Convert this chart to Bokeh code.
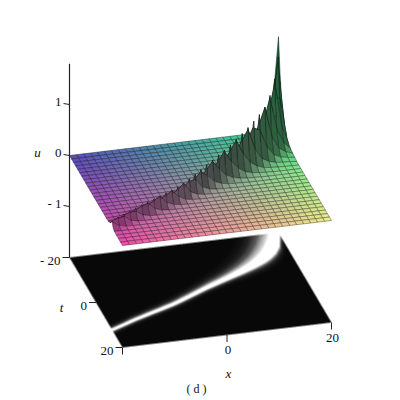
import numpy as np
from bokeh.plotting import figure
from bokeh.models import Range1d
from bokeh.core.properties import value
from bokeh.embed import file_html
from bokeh.resources import INLINE

# --- values -----------------------------------------------------------
x_cols = [-20,-18.67,-17.33,-16,-14.67,-13.33,-12,-10.67,-9.33,-8,-6.67,-5.33,-4,-2.67,-1.33,0,
          1.33,2.67,4,5.33,6.67,8,9.33,10.67,12,13.33,14.67,16,17.33,18.67,20]
ridge_t = [12.2,11.4,10.6,9.8,9.0,8.3,7.6,6.9,6.2,5.5,4.8,4.0,3.1,2.2,1.3,.4,
           -.5,-1.3,-2.1,-2.9,-3.7,-4.5,-5.3,-6.2,-7.1,-8.1,-9.2,-10.6,-12.4,-15,-20]
ridge_u = [.14,.16,.17,.18,.19,.2,.21,.22,.23,.24,.25,.26,.28,.31,.35,.38,
           .42,.46,.5,.55,.6,.66,.72,.78,.85,.92,1.0,1.15,1.38,1.68,1.84]
near_w  = [.55,.55,.55,.55,.55,.55,.55,.6,.6,.6,.6,.65,.65,.65,.7,.7,
           .75,.75,.8,.8,.85,.9,.9,.95,1,1,1.1,1.2,1.4,1.8,2.4]
far_w   = [1.2,1.2,1.2,1.2,1.2,1.3,1.3,1.3,1.3,1.4,1.4,1.4,1.5,1.5,1.5,1.6,
           1.6,1.7,1.7,1.8,1.8,1.9,1.9,2,2.1,2.2,2.3,2.5,2.7,3,3.2]
band_far = [.45,.45,.45,.5,.5,.5,.55,.55,.55,.6,.6,.65,.7,.7,.75,.8,
            .85,.95,1,1.1,1.25,1.45,1.7,2,2.4,3,3.8,4.8,6,7.5,9]
band_near = [.4,.4,.4,.4,.4,.4,.4,.4,.42,.42,.42,.42,.44,.44,.45,.45,
             .46,.48,.48,.5,.52,.56,.6,.65,.7,.75,.8,.85,.9,.95,1]
near_off = [0,.5,1,2,3,4,6]
near_val = [1,.62,.38,.14,.05,.02,0]
far_off = [0,1,2,3]
far_val = [1,.35,.08,0]
t_rows = [-20,-18.46,-16.92,-15.38,-13.85,-12.31,-10.77,-9.23,-7.69,-6.15,-4.62,-3.08,-1.54,0,
          1.54,3.08,4.62,6.15,7.69,9.23,10.77,12.31,13.85,15.38,16.92,18.46,20]
corner_far_left = (88,78,190)
corner_far_right = (58,228,140)
corner_front_left = (238,78,170)
corner_front_right = (238,238,140)
u_ticks = [-1,0,1]
u_labels = ["- 1","0","1"]
t_ticks = [-20,0,20]
t_labels = ["- 20","0","20"]
x_ticks = [0,20]
x_labels = ["0","20"]

# --- orthographic view ------------------------------------------------
O = np.array([69.0,257.0]); EX = np.array([209.0,-25.0])/40; ET = np.array([53.0,90.0])/40
U_PX = 51.0
def proj(x,t,u):
    x=np.asarray(x,float); t=np.asarray(t,float); u=np.asarray(u,float)
    sx = O[0]+(x+20)*EX[0]+(t+20)*ET[0]
    sy = O[1]+(x+20)*EX[1]+(t+20)*ET[1]-(u+2)*U_PX
    return sx,-sy

X = np.array(x_cols); T = np.array(t_rows)
RT=np.array(ridge_t); RU=np.array(ridge_u); NW=np.array(near_w); FW=np.array(far_w)

def col_u(i,t):
    d=np.asarray(t,float)-RT[i]
    return RU[i]*np.where(d>=0,np.interp(d/NW[i],near_off,near_val),np.interp(-d/FW[i],far_off,far_val))

def edge_ts(i,j):
    ts=list(np.linspace(T[j],T[j+1],5))
    if T[j]<RT[i]<T[j+1]: ts.append(RT[i])
    return sorted(ts)

xs=[];ys=[];fc=[];lc=[]
for j in range(len(T)-1):
    ft=((T[j]+T[j+1])/2+20)/40
    for i in range(len(X)-2,-1,-1):
        tl=edge_ts(i,j); tr=edge_ts(i+1,j)
        ul=col_u(i,tl); ur=col_u(i+1,tr)
        ax_,ay_=proj(np.full(len(tl),X[i]),tl,ul)
        bx_,by_=proj(np.full(len(tr),X[i+1]),tr,ur)
        xs.append(list(ax_)+list(bx_[::-1]))
        ys.append(list(ay_)+list(by_[::-1]))
        dut=((ul[-1]+ur[-1])-(ul[0]+ur[0]))/2/(T[j+1]-T[j])
        dpk=(ul.max()+ur.max()-ul.min()-ur.min())/2/(T[j+1]-T[j])
        dux=(np.mean(ur)-np.mean(ul))/(X[i+1]-X[i])
        s=np.hypot(max(abs(dut),dpk),dux)
        shade=max(1/(1+6*s),.44)
        fx=((X[i]+X[i+1])/2+20)/40
        c=(1-fx)*(1-ft)*np.array(corner_far_left)+fx*(1-ft)*np.array(corner_far_right)\
          +(1-fx)*ft*np.array(corner_front_left)+fx*ft*np.array(corner_front_right)
        c=c*shade
        fc.append("#%02x%02x%02x"%tuple(int(v) for v in c))
        lc.append("#%02x%02x%02x"%tuple(int(v) for v in c*.35))

p = figure(width=400,height=400,x_range=Range1d(0,400),y_range=Range1d(-400,0),
           output_backend="svg",toolbar_location=None,min_border=0)
p.axis.visible=False; p.grid.visible=False; p.outline_line_color=None

# density plane as an image in the same projection
W,H = 280,125
x0,y0 = 60,230
SS=3
gx,gy = np.meshgrid((np.arange(W*SS)+.5)/SS+x0,(np.arange(H*SS)+.5)/SS+y0)
det=EX[0]*ET[1]-EX[1]*ET[0]
dx=gx-O[0]; dy=gy-O[1]
ax=(dx*ET[1]-dy*ET[0])/det-20
at=(EX[0]*dy-EX[1]*dx)/det-20
inside=(ax>=-20)&(ax<=20)&(at>=-20)&(at<=20)
rt=np.interp(ax,X,RT); nb=np.interp(ax,X,band_near); fb=np.interp(ax,X,band_far)
d=at-rt
g=np.where(d>=0,np.interp(d/nb,near_off,near_val),np.interp(-d/fb,near_off,near_val))
g=np.clip(g*2.2,0,1)
gray=np.clip(g*255+8,0,255)
alpha=inside.astype(float)
def down(a): return a.reshape(H,SS,W,SS).mean(axis=(1,3))
A=down(alpha); Gp=down(gray*alpha)/np.maximum(A,1e-6)
img=np.zeros((H,W),dtype=np.uint32)
v=img.view(dtype=np.uint8).reshape(H,W,4)
v[...,0]=Gp;v[...,1]=Gp;v[...,2]=Gp;v[...,3]=A*255
img=img[::-1]
p.image_rgba(image=[img],x=x0,y=-(y0+H),dw=W,dh=H)

# surface
p.patches(xs=xs,ys=ys,fill_color=fc,line_color=lc,line_width=.6,line_alpha=.85)

# axes
axc="#222222"
ax0,ay0=proj(-20,-20,-2); ax1,ay1=proj(-20,-20,1.8)
p.segment([ax0],[ay0],[ax1],[ay1],line_color=axc,line_width=1.2)
def txt(x,y,s,**k):
    k.setdefault("text_font",value("Liberation Serif")); k.setdefault("text_font_size","13px")
    p.text([x],[y],text=[s],text_color="#111111",text_baseline="middle",**k)
for v_,l_ in zip(u_ticks,u_labels):
    a,b=proj(-20,-20,v_)
    p.segment([a-6],[b+1],[a],[b],line_color=axc,line_width=1)
    txt(a-8,b+3,l_,text_align="right")
for v_,l_ in zip(t_ticks,t_labels):
    a,b=proj(-20,v_,-2)
    p.segment([a-7],[b],[a],[b],line_color=axc,line_width=1)
    txt(a-9,b-3,l_,text_align="right")
for v_,l_ in zip(x_ticks,x_labels):
    a,b=proj(v_,20,-2)
    p.segment([a],[b],[a],[b-7],line_color=axc,line_width=1)
    txt(a+1,b-15,l_,text_align="center")
a,b=proj(-20,20,-2)
p.segment([a],[b],[a],[b-7],line_color=axc,line_width=1)
txt(37,-152,"u",text_align="center",text_font_style="italic")
txt(61,-307,"t",text_align="center",text_font_style="italic")
txt(228,-373,"x",text_align="center",text_font_style="italic")
txt(196,-388,"( d )",text_align="center",text_font_size="12px")

open("out.html","w").write(file_html(p,INLINE))
